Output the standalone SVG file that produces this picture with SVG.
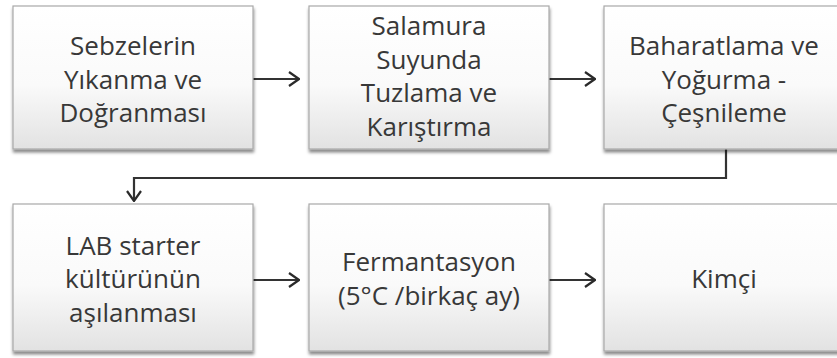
<svg xmlns="http://www.w3.org/2000/svg" width="837" height="358" viewBox="0 0 837 358">
<defs>
<linearGradient id="g" x1="0" y1="0" x2="0" y2="1">
<stop offset="0" stop-color="#ffffff"/>
<stop offset="0.55" stop-color="#fafafa"/>
<stop offset="1" stop-color="#e2e2e2"/>
</linearGradient>
<filter id="sh" x="-10%" y="-10%" width="130%" height="130%">
<feDropShadow dx="0.5" dy="3" stdDeviation="1.6" flood-color="#000" flood-opacity="0.45"/>
</filter>
<marker id="ah" viewBox="0 0 12 16" refX="11" refY="8" markerWidth="12" markerHeight="16" markerUnits="userSpaceOnUse" orient="auto">
<path d="M1,1 L11,8 L1,15" fill="none" stroke="#2a2a2a" stroke-width="2.2"/>
</marker>
<style>
.box{fill:url(#g);stroke:#a8a8a8;stroke-width:1.2;filter:url(#sh)}
.t{font-family:"Open Sans","Noto Sans","Liberation Sans",sans-serif;font-size:26px;fill:#383838;text-anchor:middle}
.c{fill:none;stroke:#333;stroke-width:2.2}
</style>
</defs>
<g id="connectors">
<path class="c" d="M253,79 H299" marker-end="url(#ah)"/>
<path class="c" d="M549,79 H595" marker-end="url(#ah)"/>
<path class="c" d="M253,280 H299" marker-end="url(#ah)"/>
<path class="c" d="M549,280 H595" marker-end="url(#ah)"/>
<path class="c" d="M726,149 V178 H134 V201" marker-end="url(#ah)"/>
</g>
<g id="n1">
<rect class="box" x="13" y="6" width="240" height="143"/>
<text class="t" x="133" y="55">Sebzelerin</text>
<text class="t" x="133" y="88.5">Yıkanma ve</text>
<text class="t" x="133" y="122">Doğranması</text>
</g>
<g id="n2">
<rect class="box" x="309" y="6" width="240" height="143"/>
<text class="t" x="429" y="35">Salamura</text>
<text class="t" x="429" y="68.5">Suyunda</text>
<text class="t" x="429" y="102">Tuzlama ve</text>
<text class="t" x="429" y="135.5">Karıştırma</text>
</g>
<g id="n3">
<rect class="box" x="604" y="6" width="240" height="143"/>
<text class="t" x="724" y="55">Baharatlama ve</text>
<text class="t" x="724" y="88.5">Yoğurma -</text>
<text class="t" x="724" y="122">Çeşnileme</text>
</g>
<g id="n4">
<rect class="box" x="13" y="204" width="240" height="147"/>
<text class="t" x="133" y="254.5">LAB starter</text>
<text class="t" x="133" y="288">kültürünün</text>
<text class="t" x="133" y="321.5">aşılanması</text>
</g>
<g id="n5">
<rect class="box" x="309" y="204" width="240" height="147"/>
<text class="t" x="429" y="271">Fermantasyon</text>
<text class="t" x="429" y="304.5">(5°C /birkaç ay)</text>
</g>
<g id="n6">
<rect class="box" x="604" y="204" width="240" height="147"/>
<text class="t" x="724" y="288">Kimçi</text>
</g>
</svg>
